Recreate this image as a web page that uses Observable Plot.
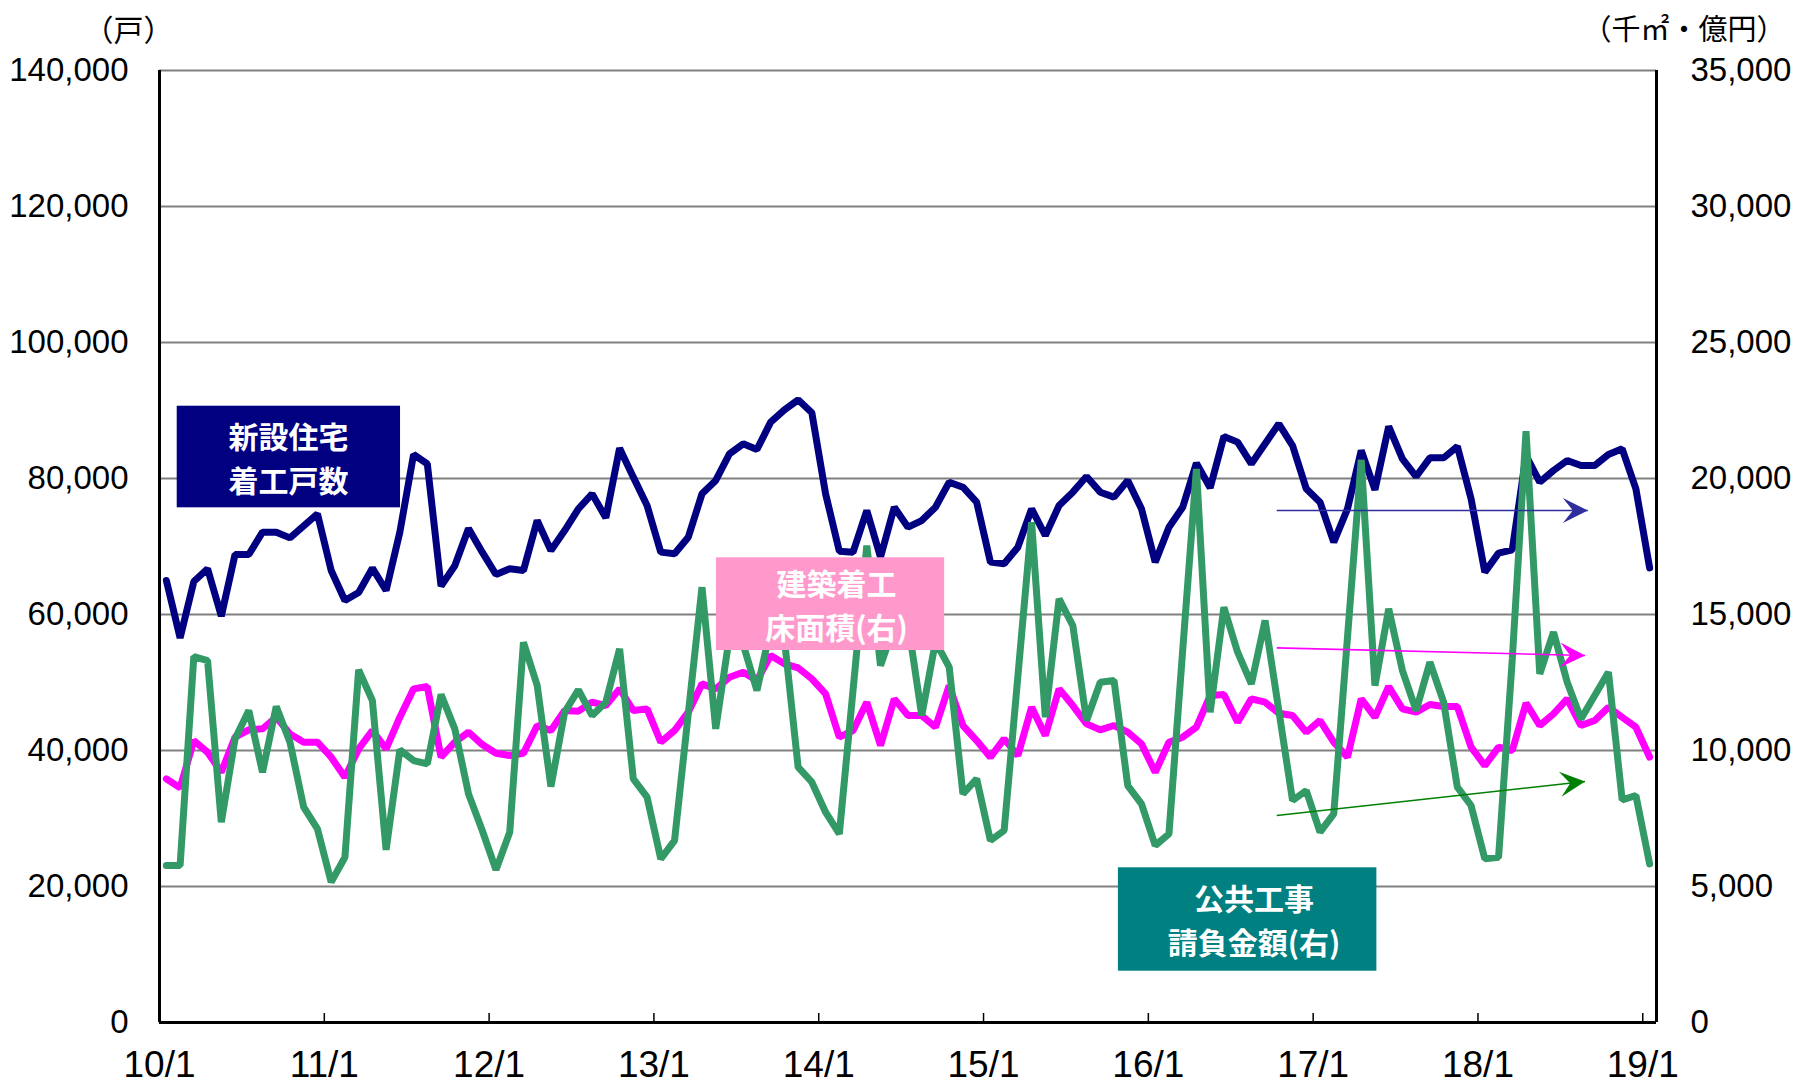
<!DOCTYPE html>
<html>
<head>
<meta charset="utf-8">
<script src="https://cdn.jsdelivr.net/npm/d3@7"></script>
<script src="https://cdn.jsdelivr.net/npm/@observablehq/plot@0.6"></script>
<style>
html, body { margin: 0; padding: 0; background: #fff; }
#chart { width: 1798px; height: 1084px; }
</style>
</head>
<body>
<div id="chart"></div>
<script>
// ---- Data (monthly, 2010/1 .. 2019/1) ----
const tickLabels = ["10/1", "11/1", "12/1", "13/1", "14/1", "15/1", "16/1", "17/1", "18/1", "19/1"];

// 新設住宅着工戸数 (戸, left axis)
const housingStarts = [
  65000, 56570, 64850, 66720, 59760, 68820, 68820, 72110, 72110, 71270, 73040, 74800,
  66470, 62060, 63240, 66810, 63530, 72110, 83530, 82160, 64170, 67160, 72650, 69170,
  65880, 66720, 66470, 73820, 69410, 72350, 75540, 77740, 74210, 84460, 80200, 76030,
  69170, 68920, 71370, 77740, 79710, 83630, 85100, 84270, 88290, 90100, 91570, 89660,
  77740, 69310, 69170, 75290, 68430, 75780, 72840, 73820, 75780, 79460, 78720, 76520,
  67700, 67450, 69900, 75540, 71620, 76030, 77990, 80290, 77990, 77260, 79710, 75540,
  67700, 72840, 75780, 82260, 78630, 86180, 85350, 82160, 85100, 88040, 84850, 78480,
  76520, 70640, 75540, 84120, 78330, 87650, 82890, 80290, 83040, 83040, 84710, 77010,
  66230, 69020, 69510, 83380, 79460, 81180, 82650, 81910, 81910, 83530, 84360, 78480,
  66860
];

// 建築着工床面積 (千㎡, right axis)
const floorArea = [
  8957, 8627, 10366, 9937, 9202, 10489, 10759, 10796, 11224, 10611, 10305, 10305,
  9754, 9018, 10060, 10734, 10060, 11224, 12266, 12351, 9754, 10305, 10673, 10219,
  9901, 9815, 9901, 10918, 10734, 11469, 11445, 11776, 11653, 12266, 11469, 11530,
  10305, 10734, 11408, 12449, 12266, 12694, 12878, 12572, 13491, 13185, 13038, 12633,
  12082, 10489, 10734, 11776, 10183, 11898, 11285, 11285, 10857, 12388, 10918, 10366,
  9754, 10428, 9815, 11592, 10550, 12266, 11653, 10979, 10759, 10918, 10673, 10244,
  9202, 10305, 10489, 10857, 12021, 12057, 11040, 11898, 11776, 11371, 11285, 10673,
  11102, 10305, 9754, 11898, 11224, 12351, 11530, 11408, 11690, 11616, 11616, 10121,
  9447, 10121, 9999, 11739, 10918, 11347, 11898, 10918, 11102, 11592, 11224, 10857,
  9754
];

// 公共工事請負金額 (億円, right axis)
const publicWorks = [
  5771, 5771, 13454, 13307, 7364, 10428, 11469, 9202, 11616, 10305, 7915, 7119,
  5159, 6077, 12964, 11837, 6347, 10024, 9631, 9508, 12057, 10796, 8406, 7058,
  5612, 6996, 13981, 12388, 8675, 11408, 12229, 11285, 11776, 13736, 8957, 8283,
  6016, 6690, 11347, 16003, 10796, 14200, 13900, 12204, 14500, 14100, 9386, 8835,
  7732, 6935, 12229, 17535, 13123, 14600, 14700, 11285, 14000, 13062, 8406, 8957,
  6690, 7058, 12731, 18392, 11224, 15574, 14594, 11102, 12511, 12572, 8712, 8038,
  6507, 6935, 13675, 20352, 11408, 15268, 13613, 12449, 14778, 11469, 8161, 8528,
  6996, 7671, 14165, 20684, 12388, 15207, 12939, 11469, 13246, 11776, 8651, 7977,
  6016, 6077, 13368, 21737, 12817, 14349, 12511, 11163, 12021, 12878, 8185, 8345,
  5833
];

const leftTicks = [0, 20000, 40000, 60000, 80000, 100000, 120000, 140000];
const rightTicks = [0, 5000, 10000, 15000, 20000, 25000, 30000, 35000];
const yearTicks = [0, 12, 24, 36, 48, 60, 72, 84, 96, 108];

// trend arrows (month index, value, which axis)
const trendArrows = [
  {x1: 81.35, v1: 75300, x2: 104.0, v2: 75300, axis: "left",  color: "#2e2e9e"},
  {x1: 81.35, v1: 13774, x2: 103.8, v2: 13491, axis: "right", color: "#ff00ff"},
  {x1: 81.35, v1: 7609,  x2: 103.8, v2: 8859,  axis: "right", color: "#008000"}
];

// series label boxes (month index, left-axis value extents)
const labelBoxes = [
  {x1: 1.29, x2: 17.55, y1: 75690, y2: 90630, fill: "#000080"},
  {x1: 40.55, x2: 57.17, y1: 54706, y2: 68340, fill: "#ff99cc"},
  {x1: 69.82, x2: 88.64, y1: 7544, y2: 22750, fill: "#008080"}
];
// label texts, one row per line
const labelLines = [
  {x: 9.4,  y: 85950, text: "新設住宅"},
  {x: 9.4,  y: 79490, text: "着工戸数"},
  {x: 49.3, y: 64300, text: "建築着工"},
  {x: 49.3, y: 57830, text: "床面積(右)"},
  {x: 79.7, y: 18010, text: "公共工事"},
  {x: 79.7, y: 11540, text: "請負金額(右)"}
];

// ---- Build ----
const RIGHT_FACTOR = 140000 / 35000;
const rows = (arr, k = 1) => arr.map((v, i) => ({i: i + 0.5, v: v * k}));
const housingRows = rows(housingStarts);
const floorRows = rows(floorArea, RIGHT_FACTOR);
const worksRows = rows(publicWorks, RIGHT_FACTOR);
const arrows = trendArrows.map(a => {
  const k = a.axis === "left" ? 1 : RIGHT_FACTOR;
  return {...a, y1: a.v1 * k, y2: a.v2 * k};
});

const numFont = "'Liberation Sans', Arial, sans-serif";
const narrowFont = "'Liberation Sans Narrow', 'Arial Narrow', 'Liberation Sans', sans-serif";
const cjkFont = "'Noto Sans CJK JP', 'Noto Sans', sans-serif";

const stealth = {
  draw(ctx) {
    ctx.moveTo(0, 0);
    ctx.lineTo(-25, -12.5);
    ctx.lineTo(-15, 0);
    ctx.lineTo(-25, 12.5);
    ctx.closePath();
  }
};

function baseMarks() {
  return [
    Plot.gridY(leftTicks, {stroke: "#808080", strokeOpacity: 1, strokeWidth: 2}),
    Plot.line(floorRows, {x: "i", y: "v", stroke: "#ff00ff", strokeWidth: 7, strokeLinejoin: "miter"}),
    Plot.line(housingRows, {x: "i", y: "v", stroke: "#000080", strokeWidth: 7, strokeLinejoin: "miter"}),
    Plot.line(worksRows, {x: "i", y: "v", stroke: "#339966", strokeWidth: 7, strokeLinejoin: "miter"}),
    Plot.ruleX([0, 109], {stroke: "#000", strokeWidth: 3}),
    Plot.ruleY([0], {stroke: "#000", strokeWidth: 3}),
    Plot.axisY(leftTicks, {anchor: "left", tickFormat: d3.format(","), tickSize: 0, tickPadding: 31, fontSize: 33, fontFamily: numFont, label: null}),
    Plot.axisY(rightTicks.map(v => v * RIGHT_FACTOR), {anchor: "right", tickFormat: d => d3.format(",")(d / RIGHT_FACTOR), tickSize: 0, tickPadding: 34, fontSize: 33, fontFamily: numFont, label: null}),
    Plot.axisX(yearTicks, {anchor: "bottom", tickFormat: d => tickLabels[d / 12], tickSize: -9, tickPadding: 37, fontSize: 37, fontFamily: narrowFont, strokeWidth: 1.5, stroke: "#000", label: null}),
    Plot.rect(labelBoxes, {x1: "x1", x2: "x2", y1: "y1", y2: "y2", fill: d => d.fill}),
    Plot.text(labelLines, {x: "x", y: "y", text: "text", fill: "#fff", fontSize: 30, fontWeight: "bold", fontFamily: cjkFont}),
    Plot.text(["（戸）"], {frameAnchor: "top-left", dx: -31, dy: -51, fontSize: 30, fontFamily: cjkFont, textAnchor: "middle", fill: "#000"}),
    Plot.text(["（千㎡・億円）"], {frameAnchor: "top-right", dx: 129, dy: -51, fontSize: 29, fontFamily: cjkFont, textAnchor: "end", fill: "#000"}),
    ...arrows.map(a => Plot.link([a], {x1: "x1", y1: "y1", x2: "x2", y2: "y2", stroke: a.color, strokeWidth: 1.6}))
  ];
}

const layout = {
  width: 1798, height: 1084,
  marginLeft: 159, marginRight: 142, marginTop: 70, marginBottom: 62,
  x: {domain: [0, 109]},
  y: {domain: [0, 140000]},
  color: {type: "identity"},
  style: {background: "#fff", color: "#000", fontFamily: numFont, overflow: "visible"}
};

// first pass: read the plot's own scales to orient arrowheads
const probe = Plot.plot({...layout, marks: baseMarks()});
const X = probe.scale("x"), Y = probe.scale("y");
arrows.forEach(a => {
  a.angle = Math.atan2(Y.apply(a.y2) - Y.apply(a.y1), X.apply(a.x2) - X.apply(a.x1)) * 180 / Math.PI;
});

const chart = Plot.plot({
  ...layout,
  marks: [
    ...baseMarks(),
    ...arrows.map(a => Plot.dot([a], {x: "x2", y: "y2", symbol: stealth, fill: a.color, stroke: "none", rotate: a.angle, r: 10}))
  ]
});
document.getElementById("chart").appendChild(chart);
</script>
</body>
</html>
